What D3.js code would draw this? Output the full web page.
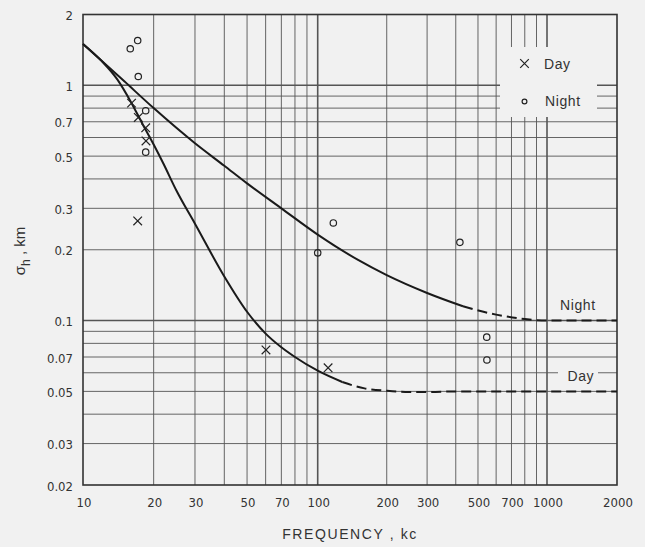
<!DOCTYPE html>
<html><head><meta charset="utf-8">
<script src="https://cdn.jsdelivr.net/npm/d3@7"></script>
<style>body{margin:0;background:#f1f1f1;} svg{display:block}</style>
</head><body><svg id="c" width="645" height="547"></svg>
<script>
// ---- data ----
const xTicks = [10, 20, 30, 50, 70, 100, 200, 300, 500, 700, 1000, 2000];
const yTicks = [0.02, 0.03, 0.05, 0.07, 0.1, 0.2, 0.3, 0.5, 0.7, 1, 2];
const xGridVals = [20, 30, 40, 50, 60, 70, 80, 90, 100, 200, 300, 400, 500, 600, 700, 800, 900, 1000];
const yGridVals = [0.03, 0.04, 0.05, 0.06, 0.07, 0.08, 0.09, 0.1, 0.2, 0.3, 0.4, 0.5, 0.6, 0.7, 0.8, 0.9, 1];
const xMajor = [100, 1000];
const yMajor = [0.1, 1];

const dayFreq = [16.1, 17.2, 18.5, 18.55, 17.1, 60.2, 111];
const dayVal  = [0.84, 0.73, 0.66, 0.58, 0.265, 0.075, 0.063];
const nightFreq = [15.9, 17.1, 17.2, 18.5, 18.5, 100, 117, 417, 546, 547];
const nightVal  = [1.43, 1.55, 1.09, 0.78, 0.52, 0.194, 0.26, 0.215, 0.085, 0.068];

const nightCurveF = [10, 15, 20, 30, 40, 50, 70, 100, 150, 200, 300, 430];
const nightCurveV = [1.5, 1.04, 0.8, 0.567, 0.455, 0.383, 0.3, 0.232, 0.181, 0.156, 0.131, 0.115];
const nightDashF = [430, 600, 800, 1000, 2000];
const nightDashV = [0.115, 0.106, 0.1015, 0.1, 0.1];
const dayCurveF = [10, 12, 14, 16, 18, 20, 22, 25, 30, 40, 50, 60, 70, 80, 100, 128];
const dayCurveV = [1.5, 1.27, 1.06, 0.85, 0.68, 0.56, 0.465, 0.357, 0.258, 0.154, 0.109, 0.088, 0.077, 0.070, 0.0612, 0.0548];
const dayDashF = [128, 160, 200, 250, 300, 400, 2000];
const dayDashV = [0.0548, 0.0515, 0.0503, 0.0497, 0.0497, 0.05, 0.05];

// ---- layout ----
const BG = "#f1f1f1";
const svg = d3.select("#c");
svg.append("rect").attr("width", 645).attr("height", 547).attr("fill", BG);
const x = d3.scaleLog().domain([10, 100, 1000, 2000]).range([83, 317.7, 547, 617]);
const y = d3.scaleLog().domain([0.02, 2]).range([485, 14.5]);
const [x0, x1] = [x(10), x(2000)], [y0, y1] = [y(2), y(0.02)];

// grid
const g = svg.append("g");
g.selectAll("line.v").data(xGridVals).join("line")
  .attr("x1", d => x(d)).attr("x2", d => x(d)).attr("y1", y0).attr("y2", y1)
  .attr("stroke", "#555").attr("stroke-width", d => xMajor.includes(d) ? 1.6 : 0.9);
g.selectAll("line.h").data(yGridVals).join("line")
  .attr("y1", d => y(d)).attr("y2", d => y(d)).attr("x1", x0).attr("x2", x1)
  .attr("stroke", "#555").attr("stroke-width", d => yMajor.includes(d) ? 1.6 : 0.9);

// blanked areas (legend, "Day" label)
svg.append("rect").attr("x", 500).attr("y", 47).attr("width", 97).attr("height", 70).attr("fill", BG);
svg.append("rect").attr("x", 558).attr("y", 364).attr("width", 40).attr("height", 20).attr("fill", BG);

// frame
svg.append("rect").attr("x", x0).attr("y", y0).attr("width", x1 - x0).attr("height", y1 - y0)
  .attr("fill", "none").attr("stroke", "#333").attr("stroke-width", 1.6);

// curves
const line = d3.line().x(d => x(d[0])).y(d => y(d[1])).curve(d3.curveMonotoneX);
const zip = (a, b) => a.map((v, i) => [v, b[i]]);
const curves = [
  [zip(nightCurveF, nightCurveV), null],
  [zip(nightDashF, nightDashV), "10,5"],
  [zip(dayCurveF, dayCurveV), null],
  [zip(dayDashF, dayDashV), "10,5"]
];
curves.forEach(([pts, dash]) => {
  svg.append("path").attr("d", line(pts)).attr("fill", "none")
    .attr("stroke", "#1a1a1a").attr("stroke-width", 2)
    .attr("stroke-dasharray", dash);
});

// markers
function cross(sel, cx, cy, s) {
  sel.append("path").attr("d", `M${cx - s},${cy - s}L${cx + s},${cy + s}M${cx - s},${cy + s}L${cx + s},${cy - s}`)
    .attr("stroke", "#222").attr("stroke-width", 1.2).attr("fill", "none");
}
dayFreq.forEach((f, i) => cross(svg, x(f), y(dayVal[i]), 4.3));
svg.selectAll("circle.n").data(nightFreq).join("circle")
  .attr("cx", d => x(d)).attr("cy", (d, i) => y(nightVal[i])).attr("r", 3.2)
  .attr("fill", "none").attr("stroke", "#222").attr("stroke-width", 1.2);

// tick labels
const tickFont = "'Liberation Sans Narrow','DejaVu Sans Condensed','Arial Narrow',sans-serif";
svg.selectAll("text.xt").data(xTicks).join("text")
  .attr("x", d => x(d) + 1).attr("y", 507).attr("text-anchor", "middle")
  .attr("font-family", tickFont).attr("font-size", 13).attr("fill", "#333")
  .text(d => d);
svg.selectAll("text.yt").data(yTicks).join("text")
  .attr("x", 73).attr("y", d => y(d) + 5.5).attr("text-anchor", "end")
  .attr("font-family", tickFont).attr("font-size", 13).attr("fill", "#333")
  .text(d => d);

// axis titles
const labFont = "'Liberation Sans','DejaVu Sans',sans-serif";
svg.append("text").attr("x", 350).attr("y", 539).attr("text-anchor", "middle")
  .attr("font-family", labFont).attr("font-size", 14).attr("letter-spacing", 1.6).attr("fill", "#333")
  .text("FREQUENCY , kc");
const yt = svg.append("text").attr("transform", "translate(25,251) rotate(-90)")
  .attr("text-anchor", "middle").attr("font-family", labFont).attr("font-size", 15).attr("fill", "#333");
yt.append("tspan").text("σ");
yt.append("tspan").attr("dy", 5).attr("font-size", 12).text("h");
yt.append("tspan").attr("dy", -5).text(" , km");

// legend
cross(svg, 524.5, 63.5, 4.3);
svg.append("circle").attr("cx", 524.5).attr("cy", 101.5).attr("r", 2.4)
  .attr("fill", "none").attr("stroke", "#222").attr("stroke-width", 1.2);
svg.append("text").attr("x", 544).attr("y", 68.5).attr("font-family", labFont).attr("font-size", 14)
  .attr("letter-spacing", 0.6).attr("fill", "#333").text("Day");
svg.append("text").attr("x", 545).attr("y", 105.5).attr("font-family", labFont).attr("font-size", 14)
  .attr("letter-spacing", 0.6).attr("fill", "#333").text("Night");

// curve labels
svg.append("text").attr("x", 560).attr("y", 309.5).attr("font-family", labFont).attr("font-size", 14)
  .attr("letter-spacing", 0.6).attr("fill", "#333").text("Night");
svg.append("text").attr("x", 567.5).attr("y", 380.5).attr("font-family", labFont).attr("font-size", 14)
  .attr("letter-spacing", 0.6).attr("fill", "#333").text("Day");
</script></body></html>
